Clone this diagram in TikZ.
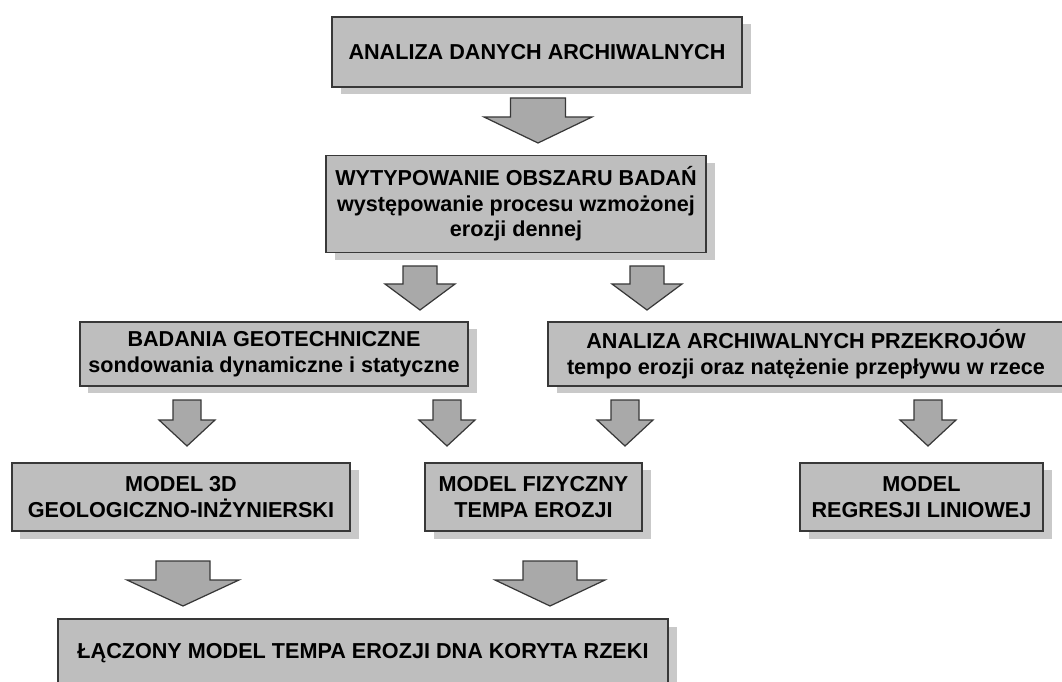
\documentclass[tikz,border=0pt]{standalone}
\usepackage{fontspec}
\setmainfont{Liberation Sans}
\usetikzlibrary{shadows}

\definecolor{boxgray}{HTML}{BEBEBE}
\definecolor{shadowgray}{HTML}{C9C9C9}
\definecolor{arrowgray}{HTML}{A9A9A9}
\definecolor{edgegray}{HTML}{383838}

\tikzset{
  stage/.style={draw=edgegray, line width=0.7pt, fill=boxgray, inner sep=0pt, align=center,
    font=\fontsize{12.3}{14.6}\selectfont\bfseries,
    general shadow={fill=shadowgray, shadow xshift=0.17cm, shadow yshift=-0.15cm}},
  flow/.style={draw=edgegray, line width=0.7pt, fill=arrowgray, line join=miter}
}

% block arrow: x, top, head base, tip, shaft half width, head half width
\newcommand{\flowarrow}[6]{
  \draw[flow] (#1-#5,#2) -- (#1+#5,#2) -- (#1+#5,#3) -- (#1+#6,#3)
    -- (#1,#4) -- (#1-#6,#3) -- (#1-#5,#3) -- cycle;
}

\begin{document}
\begin{tikzpicture}[x=0.02cm, y=-0.02cm]
      \def\px{0.02cm}
      \useasboundingbox (0,0) rectangle (1062,682);

      \node[stage, minimum width=410*\px, minimum height=70*\px] (archiwum) at (537,52)
        {ANALIZA DANYCH ARCHIWALNYCH};
      \node[stage, minimum width=380*\px, minimum height=97*\px] (obszar) at (516,204)
        {WYTYPOWANIE OBSZARU BADAŃ\\występowanie procesu wzmożonej\\erozji dennej};
      \node[stage, minimum width=388*\px, minimum height=64*\px] (geotech) at (274,354)
        {BADANIA GEOTECHNICZNE\\sondowania dynamiczne i statyczne};
      \node[stage, minimum width=516*\px, minimum height=64*\px] (przekroje) at (806,354)
        {ANALIZA ARCHIWALNYCH PRZEKROJÓW\\tempo erozji oraz natężenie przepływu w rzece};
      \node[stage, minimum width=338*\px, minimum height=68*\px] (model3d) at (181,497)
        {MODEL 3D\\GEOLOGICZNO-INŻYNIERSKI};
      \node[stage, minimum width=217*\px, minimum height=68*\px] (fizyczny) at (533.5,497)
        {MODEL FIZYCZNY\\TEMPA EROZJI};
      \node[stage, minimum width=243*\px, minimum height=68*\px] (regresja) at (921.5,497)
        {MODEL\\REGRESJI LINIOWEJ};
      \node[stage, minimum width=610*\px, minimum height=68*\px] (laczony) at (363,653)
        {ŁĄCZONY MODEL TEMPA EROZJI DNA KORYTA RZEKI};

      \flowarrow{538}{98}{117}{143}{27.5}{54}

      \flowarrow{420}{266}{284}{310}{17}{35}
      \flowarrow{647}{266}{284}{310}{17}{35}

      \flowarrow{187}{400}{420}{446}{14}{28}
      \flowarrow{447}{400}{420}{446}{14}{28}
      \flowarrow{625}{400}{420}{446}{14}{28}
      \flowarrow{928}{400}{420}{446}{14}{28}

      \flowarrow{183}{561}{580}{606}{27}{56}
      \flowarrow{550}{561}{580}{606}{27}{55}

    \end{tikzpicture}
\end{document}
